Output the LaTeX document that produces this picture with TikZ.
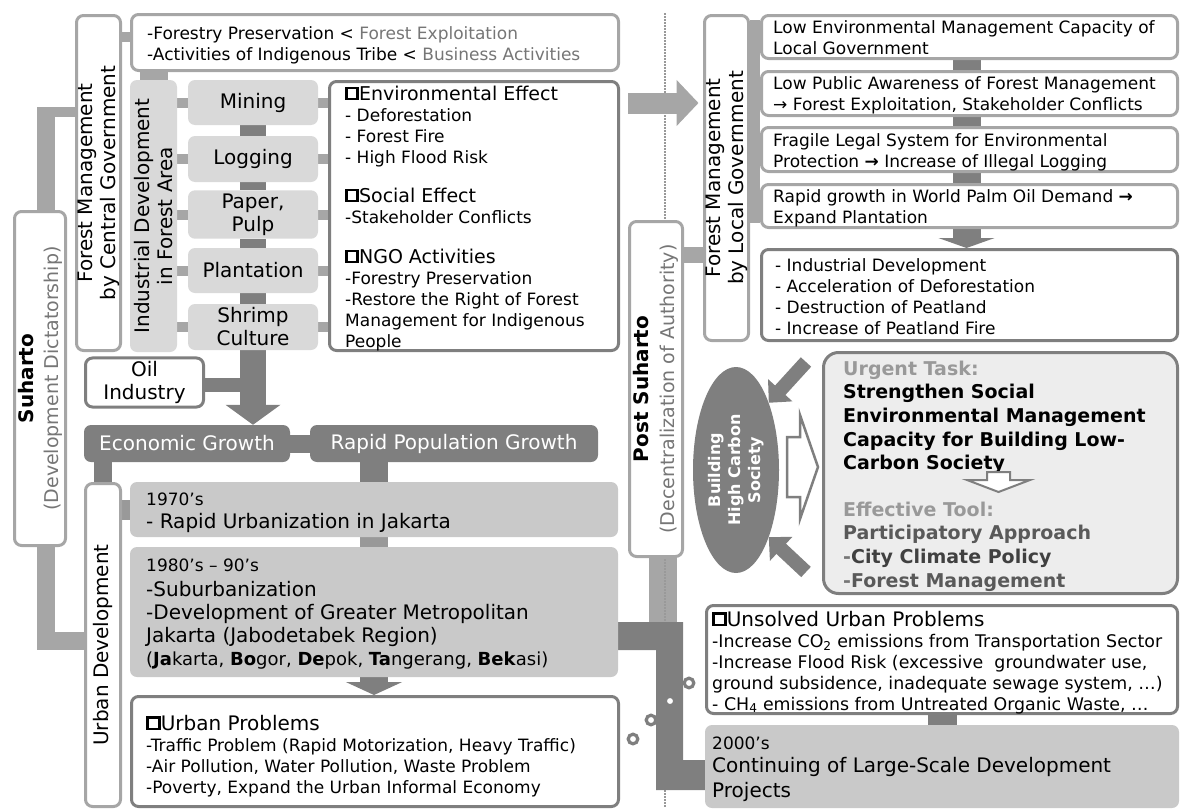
\documentclass[tikz,border=0pt]{standalone}
\usepackage{fontspec}
\setmainfont{DejaVu Sans}
\usetikzlibrary{arrows.meta,shapes.geometric,backgrounds}
\definecolor{lgray}{HTML}{A6A6A6}
\definecolor{dgray}{HTML}{7F7F7F}
\definecolor{mgray}{HTML}{999999}
\definecolor{fgray}{HTML}{D9D9D9}
\definecolor{cgray}{HTML}{C9C9C9}
\definecolor{pgray}{HTML}{EDEDED}
\definecolor{tgray}{HTML}{767676}
\newcommand{\sqmark}{\raisebox{0.12em}{\fboxsep=0pt\fboxrule=0.14em\fbox{\rule{0pt}{0.45em}\hspace{0.45em}}}}
\newcommand{\boxhead}[2][19]{{\fontsize{#1}{21}\selectfont\sqmark#2}}
\tikzset{
    wh/.style 2 args={minimum width=#1pt, minimum height=#2pt},
    lbox/.style={draw=lgray, line width=3pt, rounded corners=7pt, fill=white},
    dbox/.style={draw=dgray, line width=3pt, rounded corners=7pt, fill=white},
    ibox/.style={fill=fgray, rounded corners=7pt, align=center, font=\fontsize{20}{23}\selectfont},
    ybox/.style={fill=cgray, rounded corners=7pt},
    kbox/.style={fill=dgray, rounded corners=7pt, text=white, font=\fontsize{20}{23}\selectfont},
    txt/.style={inner sep=0pt, anchor=base west, align=left, font=\fontsize{17}{21}\selectfont},
    vtxt/.style={inner sep=0pt, rotate=90, align=center, font=\fontsize{20}{23}\selectfont},
}
\begin{document}
\begin{tikzpicture}[x=1pt, y=-1pt]
    \useasboundingbox (0,0) rectangle (1181,811);
    \node[lbox, wh={51}{334}] (suharto) at (40,378.5) {};
    \node[lbox, wh={44}{335}] (fmc) at (98.5,183) {};
    \node[lbox, wh={487}{56}] (topbox) at (375,42.5) {};
    \node[ibox, wh={47}{272}] (ind) at (153.5,216) {};
    \node[ibox, wh={130}{45}] (mining) at (253,102.5) {Mining};
    \node[ibox, wh={130}{46}] (logging) at (253,159) {Logging};
    \node[ibox, wh={130}{45}] (paper) at (253,214.5) {Paper,\\Pulp};
    \node[ibox, wh={130}{45}] (plant) at (253,270.5) {Plantation};
    \node[ibox, wh={130}{46}] (shrimp) at (253,327) {Shrimp\\Culture};
    \node[dbox, wh={289}{269}] (effect) at (474,216) {};
    \node[dbox, wh={118}{46}, align=center, font=\fontsize{20}{23}\selectfont] (oil) at (144.5,382.5) {Oil\\Industry};
    \node[kbox, wh={206}{37}] (econ) at (187,443.5) {Economic Growth};
    \node[kbox, wh={288}{37}] (pop) at (454,443.5) {Rapid Population Growth};
    \node[lbox, wh={35}{323}] (urban) at (103,645) {};
    \node[ybox, wh={488}{55}] (y70) at (374,509.5) {};
    \node[ybox, wh={488}{130}] (y80) at (374,612) {};
    \node[dbox, wh={487}{110}] (uprob) at (375,751.5) {};
    \node[lbox, wh={53}{335}] (post) at (656,389) {};
    \node[lbox, wh={44}{325}] (fml) at (726.5,178) {};
    \node[lbox, wh={416}{43}] (b1) at (969.5,37) {};
    \node[lbox, wh={416}{44}] (b2) at (969.5,93.5) {};
    \node[lbox, wh={416}{44}] (b3) at (969.5,149.5) {};
    \node[lbox, wh={416}{43}] (b4) at (969.5,206) {};
    \node[dbox, wh={416}{91}] (b5) at (969.5,295) {};
    \node[ellipse, fill=dgray, inner sep=0pt, wh={86}{206}] (ell) at (736,470) {};
    \node[draw=dgray, fill=pgray, line width=3pt, rounded corners=15pt, wh={354}{241}] (urgent) at (1000.5,473) {};
    \node[dbox, wh={471}{108}] (unsolved) at (942,659.5) {};
    \node[ybox, wh={474}{83}] (y2000) at (942,766.5) {};

    \node[vtxt] (suhartoT) at (suharto) {\textbf{Suharto}\\[2pt]{\fontsize{19}{23}\selectfont\color{tgray}(Development Dictatorship)}};
    \node[vtxt] (fmcT) at (fmc) {Forest Management\\by Central Government};
    \node[vtxt] (indT) at (ind) {Industrial Development\\in Forest Area};
    \node[vtxt] (urbanT) at (urban) {Urban Development};
    \node[vtxt] (postT) at (post) {\textbf{Post Suharto}\\[3pt]{\fontsize{19}{23}\selectfont\color{tgray}(Decentralization of Authority)}};
    \node[vtxt] (fmlT) at (fml) {Forest Management\\by Local Government};
    \node[vtxt, text=white, font=\bfseries\fontsize{16}{20}\selectfont] (ellT) at (ell) {Building\\High Carbon\\Society};

    \node[txt] (topT) at (147,60) {-Forestry Preservation < {\color{tgray}Forest Exploitation}\\
        -Activities of Indigenous Tribe < {\color{tgray}Business Activities}};
    \node[txt] (effectT) at (345,347) {\boxhead{Environmental Effect}\\
        - Deforestation\\
        - Forest Fire\\
        - High Flood Risk\\[18pt]
        \boxhead{Social Effect}\\
        -Stakeholder Conflicts\\[19pt]
        \boxhead{NGO Activities}\\
        -Forestry Preservation\\
        -Restore the Right of Forest\\
        Management for Indigenous\\
        People};
    \node[txt] (b1T) at (773,54) {Low Environmental Management Capacity of\\Local Government};
    \node[txt] (b2T) at (773,110) {Low Public Awareness of Forest Management\\→ Forest Exploitation, Stakeholder Conflicts};
    \node[txt] (b3T) at (773,167) {Fragile Legal System for Environmental\\Protection \textbf{→} Increase of Illegal Logging};
    \node[txt] (b4T) at (773,223) {Rapid growth in World Palm Oil Demand \textbf{→}\\Expand Plantation};
    \node[txt] (b5T) at (775,334) {- Industrial Development\\- Acceleration of Deforestation\\- Destruction of Peatland\\- Increase of Peatland Fire};
    \node[txt, font=\bfseries\fontsize{19}{23.6}\selectfont] (urgentT) at (843,587) {{\color{mgray}Urgent Task:}\\
        Strengthen Social\\
        Environmental Management\\
        Capacity for Building Low-\\
        Carbon Society\\[23pt]
        {\color{mgray}Effective Tool:}\\
        {\color{black!65}Participatory Approach}\\
        {\color{tgray}-}{\color{black!75}City Climate Policy}\\
        {\color{tgray}-}{\color{black!65}Forest Management}};
    \node[txt, font=\fontsize{17.4}{21}\selectfont] (unsolvedT) at (712,710) {\boxhead[20]{Unsolved Urban Problems}\\
        -Increase CO\textsubscript{2} emissions from Transportation Sector\\
        -Increase Flood Risk (excessive\ \ groundwater use,\\
        ground subsidence, inadequate sewage system, …)\\
        - CH\textsubscript{4} emissions from Untreated Organic Waste, …};
    \node[txt, font=\fontsize{20}{23}\selectfont] (y2000T) at (712,797) {{\fontsize{17}{21}\selectfont 2000’s}\\
        Continuing of Large-Scale Development\\[2pt]
        Projects};
    \node[txt, font=\fontsize{20}{23}\selectfont] (y70T) at (146,528) {{\fontsize{17}{21}\selectfont 1970’s}\\
        - Rapid Urbanization in Jakarta};
    \node[txt, font=\fontsize{20}{23}\selectfont] (y80T) at (146,665) {{\fontsize{17}{21}\selectfont 1980’s – 90’s}\\[2pt]
        -Suburbanization\\
        -Development of Greater Metropolitan\\
        Jakarta (Jabodetabek Region)\\
        {\fontsize{18}{21}\selectfont(\textbf{Ja}karta, \textbf{Bo}gor, \textbf{De}pok, \textbf{Ta}ngerang, \textbf{Bek}asi)}};
    \node[txt] (uprobT) at (146,793) {\boxhead[20]{Urban Problems}\\
        -Traffic Problem (Rapid Motorization, Heavy Traffic)\\
        -Air Pollution, Water Pollution, Waste Problem\\
        -Poverty, Expand the Urban Informal Economy};

    \coordinate (suTop) at (46,112);
    \coordinate (suBot) at (46,641);
    \coordinate (postJ) at (663,622);
    \coordinate (divTop) at (665,13);
    \coordinate (divBot) at (665,808);
    \coordinate (ellA) at (806,362);
    \coordinate (ellB) at (806,572);

    \begin{scope}[on background layer]
        \draw[lgray, line width=18pt] (suharto.north -| suTop) -- ([yshift=5pt]suTop);
        \draw[lgray, line width=10pt] ([xshift=-9pt]suTop) -- (suTop -| fmc.west);
        \draw[lgray, line width=18pt] (suharto.south -| suBot) -- (suBot) -- (suBot -| urban.west);
        \draw[lgray, line width=10pt] (fmc.east |- 0,37) -- (topbox.west |- 0,37);
        \draw[lgray, line width=28pt] (ind.north |- topbox.south) -- (ind.north);
        \foreach \n in {mining,logging,paper,plant,shrimp} {
            \draw[lgray, line width=10pt] (ind.east |- \n.west) -- (\n.west);
            \draw[lgray, line width=10pt] (\n.east) -- (\n.east -| effect.west);
        }
        \foreach \a/\b in {mining/logging,logging/paper,paper/plant,plant/shrimp}
            \draw[dgray, line width=26pt] (\a.south) -- (\b.north);
        \draw[dgray, line width=14pt] (oil.east |- 0,385) -- (shrimp.south |- 0,385);
        \draw[dgray, line width=26pt, -{Triangle[length=20pt, width=54pt]}] (shrimp.south) -- (shrimp.south |- econ.north);
        \draw[dgray, line width=18pt] (econ.east) -- (pop.west);
        \draw[dgray, line width=18pt] (urban.north |- econ.south) -- (urban.north);
        \draw[dgray, line width=28pt] (y70.north |- pop.south) -- (y70.north);
        \draw[mgray, line width=28pt] (y70.south) -- (y80.north);
        \draw[mgray, line width=20pt] (urban.east |- 0,510) -- (y70.west |- 0,510);
        \draw[dgray, line width=28pt, -{Triangle[length=13pt, width=56pt]}] (y80.south) -- (y80.south |- uprob.north);
        \draw[lgray, line width=28pt] (post.south -| postJ) -- (postJ);
        \draw[mgray, line width=1.5pt, dash pattern=on 1.5pt off 1.5pt] (divTop) -- (divBot);
        \draw[lgray, line width=21pt, -{Triangle[length=22pt, width=45pt]}] ([xshift=8pt]effect.east |- 0,103) -- ([xshift=-4.5pt]fml.west |- 0,103);
        \fill[dgray] (y80.east |- 0,622) -- (683,622) -- (683,760) -- (y2000.west |- 0,760) -- (y2000.west |- 0,790) -- (656,790) -- (656,650) -- (y80.east |- 0,650) -- cycle;
        \draw[lgray, line width=16pt] (post.east |- 0,255) -- (fml.west |- 0,255);
        \fill[lgray] ([yshift=-6pt]fml.east |- b1.north) rectangle ([yshift=6pt]b4.south west);
        \foreach \a/\b in {b1/b2,b2/b3,b3/b4}
            \draw[dgray, line width=28pt] ([xshift=-3pt]\a.south) -- ([xshift=-3pt]\b.north);
        \draw[dgray, line width=28pt, -{Triangle[length=10pt, width=56pt]}] ([xshift=-3pt]b4.south) -- ([xshift=-3pt]b5.north);
        \draw[dgray, line width=29pt] (unsolved.south) -- (y2000.north);
    \end{scope}

    \draw[dgray, line width=14pt, -{Triangle[length=17pt, width=32pt]}] (ellA) -- (ell.64);
    \draw[dgray, line width=14pt, -{Triangle[length=17pt, width=32pt]}] (ellB) -- (ell.-64);
    \draw[dgray, line width=2.5pt, fill=white] (787,437) -- (800,437) -- (800,415) -- (818,467) -- (800,519) -- (800,497) -- (787,497) -- cycle;
    \draw[dgray, line width=2pt, fill=white] (987,472) -- (1010,472) -- (1010,480) -- (1030,480) -- (998.5,492) -- (967,480) -- (987,480) -- cycle;
    \foreach \p in {(689,683),(670,701),(651,720),(633,739)}
        \draw[dgray, line width=3.2pt, fill=white] \p circle (4.8pt);
\end{tikzpicture}
\end{document}
